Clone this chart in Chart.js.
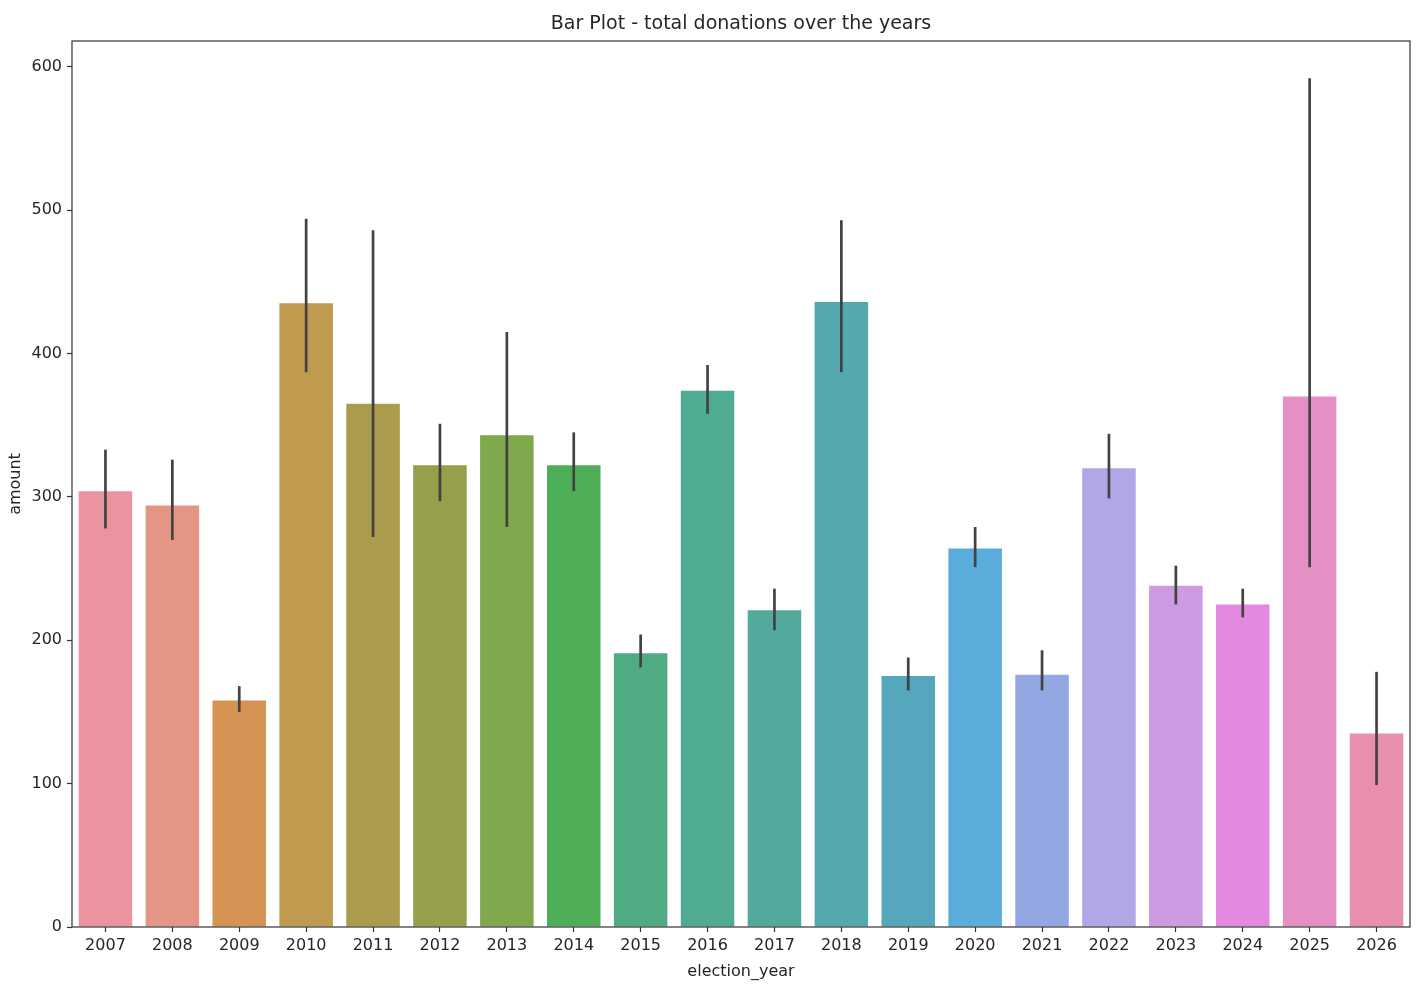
<!DOCTYPE html>
<html>
<head>
<meta charset="utf-8">
<script src="https://cdn.jsdelivr.net/npm/chart.js@4.4.0/dist/chart.umd.min.js"></script>
<style>
  body { margin: 0; background: #fff; }
  #wrap { width: 1428px; height: 1000px; }
</style>
</head>
<body>
<div id="wrap"><canvas id="myBarChart" width="1428" height="1000"></canvas></div>
<script>
// election years and mean donation amounts
var years = ['2007', '2008', '2009', '2010', '2011', '2012', '2013', '2014', '2015', '2016',
             '2017', '2018', '2019', '2020', '2021', '2022', '2023', '2024', '2025', '2026'];
var amounts = [304, 294, 158, 435, 365, 322, 343, 322, 191, 374,
               221, 436, 175, 264, 176, 320, 238, 225, 370, 135];
// confidence interval low / high
var ciLow = [278, 270, 150, 387, 272, 297, 279, 304, 181, 358,
             207, 387, 165, 251, 165, 299, 225, 216, 251, 99];
var ciHigh = [333, 326, 168, 494, 486, 351, 415, 345, 204, 392,
              236, 493, 188, 279, 193, 344, 252, 236, 592, 178];
var barColors = ['#e9949f', '#e59584', '#d59453', '#bf9a4f', '#aa9b4d', '#989f4b', '#80a84c',
                 '#4eae58', '#51ab82', '#50ab93', '#52aa9d', '#53a9ae', '#55a7bd', '#5aacdb',
                 '#93a8e3', '#b3a6e6', '#ce9ae2', '#e489e0', '#e590c5', '#e88fb0'];
var chartTitle = 'Bar Plot - total donations over the years';

var txt = '#262626';
var fontFamily = '"DejaVu Sans", sans-serif';

// draws the error bars from the ci arrays
var errorBars = {
    id: 'errorBars',
    afterDatasetsDraw: function (chart) {
        var meta = chart.getDatasetMeta(0);
        var y = chart.scales.y;
        var ctx = chart.ctx;
        ctx.save();
        ctx.strokeStyle = '#424242';
        ctx.lineWidth = 2.7;
        for (var i = 0; i < meta.data.length; i++) {
            var x = meta.data[i].x;
            ctx.beginPath();
            ctx.moveTo(x, y.getPixelForValue(ciLow[i]));
            ctx.lineTo(x, y.getPixelForValue(ciHigh[i]));
            ctx.stroke();
        }
        ctx.restore();
    }
};

// box around the plot area + title centred over it (like matplotlib)
var frame = {
    id: 'frame',
    afterDraw: function (chart) {
        var a = chart.chartArea;
        var ctx = chart.ctx;
        ctx.save();
        ctx.strokeStyle = '#333';
        ctx.lineWidth = 1.2;
        ctx.strokeRect(a.left, a.top, a.right - a.left, a.bottom - a.top);
        ctx.fillStyle = txt;
        ctx.font = '19px ' + fontFamily;
        ctx.textAlign = 'center';
        ctx.textBaseline = 'middle';
        ctx.fillText(chartTitle, (a.left + a.right) / 2, 24);
        ctx.restore();
    }
};

var config = {
    type: 'bar',
    data: {
        labels: years,
        datasets: [{
            label: 'amount',
            data: amounts,
            backgroundColor: barColors,
            borderWidth: 0,
            barPercentage: 0.8,
            categoryPercentage: 1.0
        }]
    },
    options: {
        responsive: false,
        animation: false,
        layout: { padding: { left: 0, right: 18, top: 41, bottom: 19 } },
        plugins: {
            legend: { display: false },
            tooltip: { enabled: false },
            title: { display: false }
        },
        scales: {
            x: {
                offset: true,
                grid: { display: true, drawOnChartArea: false, offset: false, tickLength: 5, color: '#333', tickWidth: 1.2 },
                border: { display: false },
                ticks: { color: txt, font: { family: fontFamily, size: 16 }, maxRotation: 0, padding: 4 },
                title: { display: true, text: 'election_year', color: txt, font: { family: fontFamily, size: 16 }, padding: { top: 2, bottom: 0 } },
                afterFit: function (scale) { scale.height = 54; }
            },
            y: {
                min: 0,
                max: 618,
                grid: { display: true, drawOnChartArea: false, tickLength: 5, color: '#333', tickWidth: 1.2 },
                border: { display: false },
                ticks: { stepSize: 100, color: txt, font: { family: fontFamily, size: 16 }, padding: 5 },
                title: { display: true, text: 'amount', color: txt, font: { family: fontFamily, size: 16 }, padding: { top: 6, bottom: 0 } },
                afterBuildTicks: function (scale) {
                    scale.ticks = scale.ticks.filter(function (t) { return t.value % 100 === 0; });
                },
                afterFit: function (scale) { scale.width = 72; }
            }
        }
    },
    plugins: [errorBars, frame]
};

var ctx = document.getElementById('myBarChart').getContext('2d');
var myBarChart = new Chart(ctx, config);
</script>
</body>
</html>
